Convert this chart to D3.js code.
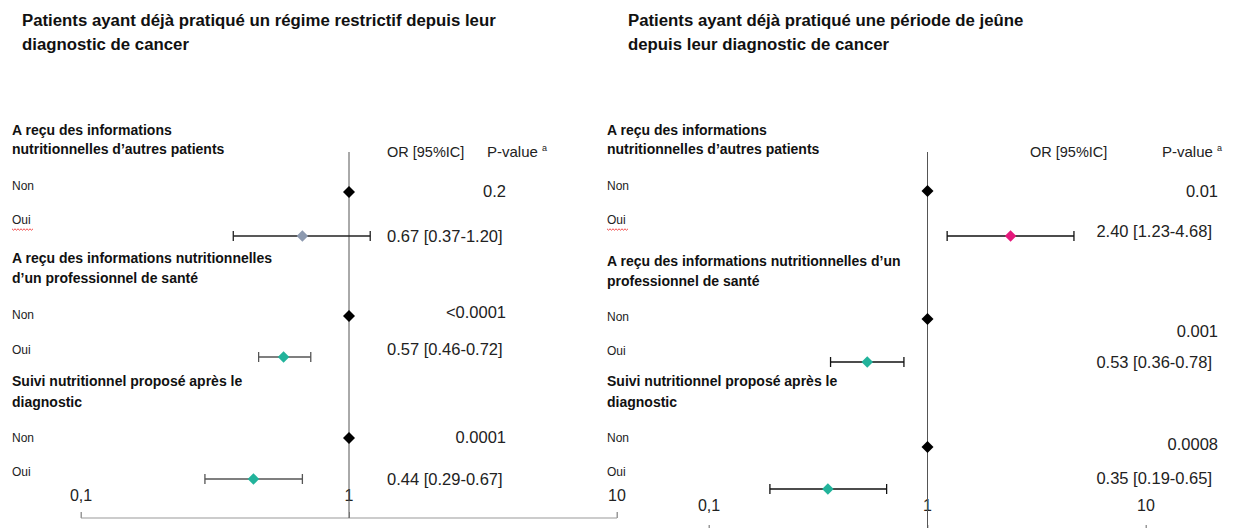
<!DOCTYPE html>
<html>
<head>
<meta charset="utf-8">
<script src="https://cdn.jsdelivr.net/npm/d3@7"></script>
<style>
  body { margin: 0; background: #fff; }
  svg { display: block; font-family: "Liberation Sans", Arial, sans-serif; }
</style>
</head>
<body>
<svg id="chart" width="1236" height="528"></svg>
<script>
// ---- data ----
const tickValues = [0.1, 1, 10];
const tickLabels = ["0,1", "1", "10"];
const refValue = 1; // reference category "Non"
const rowLabels = ["Non", "Oui"];

const groupNamesLeft = [
  ["A reçu des informations", "nutritionnelles d’autres patients"],
  ["A reçu des informations nutritionnelles", "d’un professionnel de santé"],
  ["Suivi nutritionnel proposé après le", "diagnostic"]
];
const groupNamesRight = [
  ["A reçu des informations", "nutritionnelles d’autres patients"],
  ["A reçu des informations nutritionnelles d’un", "professionnel de santé"],
  ["Suivi nutritionnel proposé après le", "diagnostic"]
];

const leftTitle = ["Patients ayant déjà pratiqué un régime restrictif depuis leur", "diagnostic de cancer"];
const leftOR = [0.67, 0.57, 0.44];
const leftLow = [0.37, 0.46, 0.29];
const leftHigh = [1.20, 0.72, 0.67];
const leftP = ["0.2", "<0.0001", "0.0001"];

const rightTitle = ["Patients ayant déjà pratiqué une période de jeûne", "depuis leur diagnostic de cancer"];
const rightOR = [2.40, 0.53, 0.35];
const rightLow = [1.23, 0.36, 0.19];
const rightHigh = [4.68, 0.78, 0.65];
const rightP = ["0.01", "0.001", "0.0008"];

const fmt = d3.format(".2f");

// ---- layout ----
const panels = [
  {
    title: leftTitle, titleX: 22, groups: groupNamesLeft,
    or: leftOR, low: leftLow, high: leftHigh, p: leftP,
    colors: ["#8d9ab0", "#22b39b", "#22b39b"],
    whisker: ["#222", "#555", "#555"],
    range: [81, 617], labelX: 12,
    headY: [[131, 150], [259, 279], [382, 403]],
    nonLabelY: [187, 316, 439], ouiLabelY: [221, 351, 473],
    nonY: [192, 316, 438], ouiY: [236, 357, 479],
    pY: [193, 314, 439], pX: 506, pAnchor: "end",
    orY: [238, 351, 481], orX: 387, orAnchor: "start",
    hdrOR: 387, hdrP: 487,
    tickY: 497, axisY: 518
  },
  {
    title: rightTitle, titleX: 628, groups: groupNamesRight,
    or: rightOR, low: rightLow, high: rightHigh, p: rightP,
    colors: ["#e5197c", "#22b39b", "#22b39b"],
    whisker: ["#111", "#111", "#111"],
    range: [709, 1146], labelX: 607,
    headY: [[131, 150], [262, 282], [382, 403]],
    nonLabelY: [187, 318, 439], ouiLabelY: [221, 352, 473],
    nonY: [191, 319, 447], ouiY: [236, 362, 489],
    pY: [193, 333, 446], pX: 1218, pAnchor: "end",
    orY: [233, 364, 480], orX: 1212, orAnchor: "end",
    hdrOR: 1030, hdrP: 1162,
    tickY: 507, axisY: 531
  }
];

const svg = d3.select("#chart");

panels.forEach(pn => {
  const g = svg.append("g");
  const x = d3.scaleLog().domain([0.1, 10]).range(pn.range);

  // title
  g.selectAll(".title").data(pn.title).join("text")
    .attr("x", pn.titleX).attr("y", (d, i) => 22 + i * 24)
    .attr("dominant-baseline", "middle")
    .attr("font-weight", "bold").attr("font-size", "16.8px").attr("fill", "#111")
    .text(d => d);

  // column headers
  g.append("text").attr("x", pn.hdrOR).attr("y", 153).attr("dominant-baseline", "middle")
    .attr("font-size", "14.5px").attr("fill", "#222").text("OR [95%IC]");
  const ph = g.append("text").attr("x", pn.hdrP).attr("y", 153).attr("dominant-baseline", "middle")
    .attr("font-size", "15px").attr("fill", "#222");
  ph.append("tspan").text("P-value ");
  ph.append("tspan").attr("font-size", "9px").attr("dy", -4).text("a");

  // axis
  const axis = d3.axisTop(x).tickValues(tickValues).tickSize(6).tickFormat("");
  const ax = g.append("g").attr("transform", `translate(0,${pn.axisY})`).call(axis);
  ax.select(".domain").attr("stroke", "#999").attr("d", `M${pn.range[0]},-6V0H${pn.range[1]}V-6`);
  ax.selectAll(".tick line").attr("stroke", "#999");
  g.selectAll(".ticklab").data(tickValues).join("text")
    .attr("x", d => x(d)).attr("y", pn.tickY)
    .attr("text-anchor", "middle").attr("dominant-baseline", "middle")
    .attr("font-size", "16px").attr("fill", "#222")
    .text((d, i) => tickLabels[i]);

  // reference line
  g.append("line").attr("x1", x(refValue)).attr("x2", x(refValue))
    .attr("y1", 152).attr("y2", pn.axisY).attr("stroke", "#555").attr("stroke-width", 1);

  pn.groups.forEach((lines, i) => {
    // group heading
    lines.forEach((t, j) => {
      g.append("text").attr("x", pn.labelX).attr("y", pn.headY[i][j])
        .attr("dominant-baseline", "middle")
        .attr("font-weight", "bold").attr("font-size", "14px").attr("fill", "#111").text(t);
    });
    // row labels
    [pn.nonLabelY[i], pn.ouiLabelY[i]].forEach((yy, k) => {
      g.append("text").attr("x", pn.labelX).attr("y", yy).attr("dominant-baseline", "middle")
        .attr("font-size", "12px").attr("fill", "#222").text(rowLabels[k]);
    });
    if (i === 0) {
      // spell-check squiggle under the first "Oui"
      const sq = d3.range(0, 22, 1.5).map((v, k) => [pn.labelX + v, pn.ouiLabelY[i] + 8 + (k % 2 ? 1.2 : -0.2)]);
      g.append("path").attr("d", d3.line()(sq)).attr("fill", "none").attr("stroke", "#e33").attr("stroke-width", 0.9);
    }

    // reference diamond (Non)
    g.append("path").attr("d", d3.symbol(d3.symbolSquare, 72)())
      .attr("transform", `translate(${x(refValue)},${pn.nonY[i]}) rotate(45)`).attr("fill", "#000");

    // CI whisker (Oui)
    const wy = pn.ouiY[i];
    g.append("line").attr("x1", x(pn.low[i])).attr("x2", x(pn.high[i]))
      .attr("y1", wy).attr("y2", wy).attr("stroke", pn.whisker[i]).attr("stroke-width", 1.3);
    [pn.low[i], pn.high[i]].forEach(v => {
      g.append("line").attr("x1", x(v)).attr("x2", x(v)).attr("y1", wy - 5).attr("y2", wy + 5)
        .attr("stroke", pn.whisker[i]).attr("stroke-width", 1.3);
    });
    g.append("path").attr("d", d3.symbol(d3.symbolSquare, 66)())
      .attr("transform", `translate(${x(pn.or[i])},${wy}) rotate(45)`).attr("fill", pn.colors[i]);

    // texts
    g.append("text").attr("x", pn.pX).attr("y", pn.pY[i]).attr("text-anchor", pn.pAnchor)
      .attr("dominant-baseline", "middle").attr("font-size", "16.5px").attr("fill", "#222").text(pn.p[i]);
    g.append("text").attr("x", pn.orX).attr("y", pn.orY[i]).attr("text-anchor", pn.orAnchor)
      .attr("dominant-baseline", "middle").attr("font-size", "16.5px").attr("fill", "#222")
      .text(`${fmt(pn.or[i])} [${fmt(pn.low[i])}-${fmt(pn.high[i])}]`);
  });
});
</script>
</body>
</html>
